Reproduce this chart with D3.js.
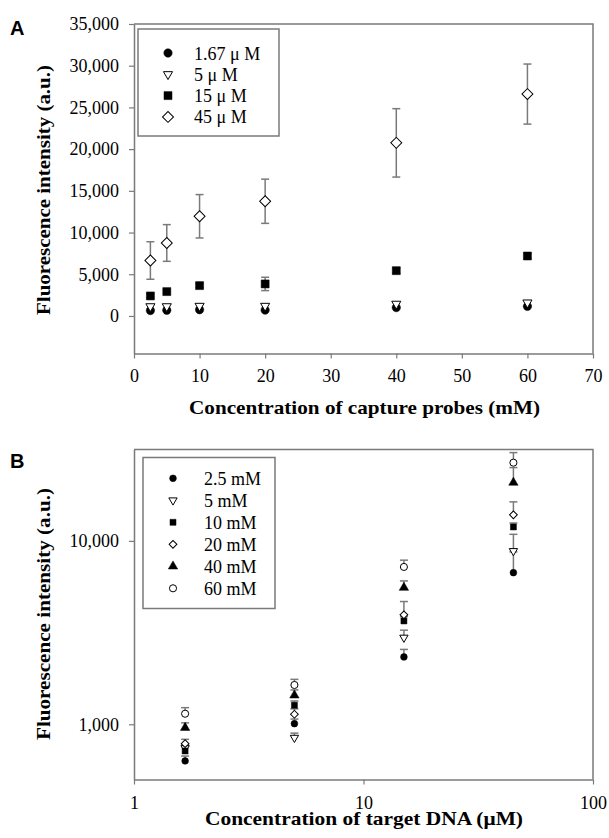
<!DOCTYPE html>
<html>
<head>
<meta charset="utf-8">
<script src="https://cdn.jsdelivr.net/npm/d3@7"></script>
<style>
  body { margin: 0; background: #fff; }
  svg text { font-family: "Liberation Serif", "Times New Roman", serif; }
</style>
</head>
<body>
<svg id="chart" width="609" height="838"></svg>
<script>
// panel A: capture probe concentration (mM) vs intensity, one series per target conc
const xA = [2.5, 5, 10, 20, 40, 60]
const a167 = [650, 680, 750, 700, 1000, 1150]
const a5 = [1150, 1150, 1200, 1200, 1450, 1600]
const a15 = [2400, 2920, 3640, 3840, 5430, 7190]
const a15err = [200, 200, 250, 800, 300, 300]
const a45 = [6650, 8750, 11950, 13750, 20750, 26600]
const a45err = [2250, 2200, 2600, 2650, 4100, 3600]
const yTicksA = [0, 5000, 10000, 15000, 20000, 25000, 30000, 35000]
const xTicksA = [0, 10, 20, 30, 40, 50, 60, 70]

// panel B: target DNA (uM) vs intensity, one series per probe conc (upper error only)
const xB = [1.67, 5, 15, 45]
const b25 = [631, 1008, 2330, 6710]
const b5 = [742, 845, 2970, 8810]
const b10 = [715, 1270, 3660, 11910]
const b20 = [784, 1134, 3950, 13870]
const b40 = [958, 1439, 5560, 20800]
const b60 = [1142, 1638, 7210, 26700]
const e25 = [40, 60, 230, 2000]
const e5 = [30, 50, 290, 2050]
const e10 = [40, 70, 200, 600]
const e20 = [44, 80, 720, 2450]
const e40 = [60, 100, 490, 4300]
const e60 = [90, 120, 640, 3600]
const yTicksB = [1000, 10000]
const xTicksB = [1, 10, 100]

const svg = d3.select("#chart")
const gray = "#7a7a7a"

// symbol helper
const shapes = {
    circle: {type: d3.symbolCircle, fill: "#000", rot: 0},
    tri: {type: d3.symbolTriangle, fill: "#fff", rot: 180},
    triUp: {type: d3.symbolTriangle, fill: "#000", rot: 0},
    square: {type: d3.symbolSquare, fill: "#000", rot: 0},
    diamond: {type: d3.symbolSquare, fill: "#fff", rot: 45},
    ring: {type: d3.symbolCircle, fill: "#fff", rot: 0}
}
const sizeA = {circle: 55, tri: 36, square: 64, diamond: 60}
const sizeB = {circle: 36, tri: 30, triUp: 38, square: 36, diamond: 30, ring: 40}

function marks(g, data, shape, size) {
    const s = shapes[shape]
    g.selectAll(null)
        .data(data)
        .enter().append("path")
        .attr("d", d3.symbol().type(s.type).size(size))
        .attr("transform", (d) => `translate(${d.x},${d.y}) rotate(${s.rot})`)
        .attr("fill", s.fill)
        .attr("stroke", "#000")
        .attr("stroke-width", s.fill == "#000" ? 0.5 : 1)
}

function errBars(g, data, cap, both) {
    const e = g.selectAll(null).data(data).enter().append("g")
        .attr("stroke", gray).attr("stroke-width", 1.5)
    e.append("line")
        .attr("x1", (d) => d.x).attr("x2", (d) => d.x)
        .attr("y1", (d) => both ? d.lo : d.y).attr("y2", (d) => d.hi)
    e.append("line")
        .attr("x1", (d) => d.x - cap).attr("x2", (d) => d.x + cap)
        .attr("y1", (d) => d.hi).attr("y2", (d) => d.hi)
    if (both) {
        e.append("line")
            .attr("x1", (d) => d.x - cap).attr("x2", (d) => d.x + cap)
            .attr("y1", (d) => d.lo).attr("y2", (d) => d.lo)
    }
}

function frame(g, x0, x1, y0, y1) {
    g.append("path")
        .attr("d", `M${x0},${y0}H${x1}V${y1}`)
        .attr("fill", "none").attr("stroke", gray).attr("stroke-width", 1.5)
}

function styleAxis(g) {
    g.select(".domain").attr("stroke", gray).attr("stroke-width", 1.5)
    g.selectAll(".tick line").attr("stroke", gray).attr("stroke-width", 1.2)
    g.selectAll(".tick text").attr("fill", "#000")
        .style("font-family", "'Liberation Serif', serif").style("font-size", "18px")
}

function legend(g, x, y, w, h, rows, first, gap, sizes, symX, textX) {
    g.append("rect").attr("x", x).attr("y", y).attr("width", w).attr("height", h)
        .attr("fill", "#fff").attr("stroke", gray).attr("stroke-width", 1.5)
    rows.forEach((r, i) => {
        const cy = y + first + gap * i
        marks(g, [{x: symX, y: cy}], r.shape, sizes[r.shape])
        g.append("text").attr("x", textX).attr("y", cy + 6.5)
            .style("font-size", "18px").text(r.label)
    })
}

function title(g, x, y, rot, len, txt) {
    g.append("text").attr("transform", `translate(${x},${y}) rotate(${rot})`)
        .attr("text-anchor", "middle")
        .attr("textLength", len).attr("lengthAdjust", "spacingAndGlyphs")
        .style("font-size", "19px").style("font-weight", "bold")
        .text(txt)
}

function panelLabel(g, x, y, txt) {
    g.append("text").attr("x", x).attr("y", y)
        .style("font-family", "'Liberation Sans', Arial, sans-serif")
        .style("font-size", "20px").style("font-weight", "bold").text(txt)
}

// ---------- Panel A ----------
const xScaleA = d3.scaleLinear().domain([0, 70]).range([134, 593])
const yScaleA = d3.scaleLinear().domain([-4500, 35000]).range([353.5, 24])
const gA = svg.append("g")

frame(gA, 134, 593, 24, 353.5)

gA.append("g").attr("transform", "translate(0,353.5)")
    .call(d3.axisBottom(xScaleA).tickValues(xTicksA).tickSize(5).tickSizeOuter(0).tickPadding(11))
    .call(styleAxis)
gA.append("g").attr("transform", "translate(134,0)")
    .call(d3.axisLeft(yScaleA).tickValues(yTicksA).tickFormat(d3.format(",")).tickSize(5).tickSizeOuter(0).tickPadding(10))
    .call(styleAxis)

const ptsA = (vals, errs) => xA.map((x, i) => ({
    x: xScaleA(x), y: yScaleA(vals[i]),
    hi: errs ? yScaleA(vals[i] + errs[i]) : 0, lo: errs ? yScaleA(vals[i] - errs[i]) : 0
}))

errBars(gA, ptsA(a45, a45err), 4, true)
errBars(gA, ptsA(a15, a15err), 4, true)
marks(gA, ptsA(a167), "circle", sizeA.circle)
marks(gA, ptsA(a5), "tri", sizeA.tri)
marks(gA, ptsA(a15), "square", sizeA.square)
marks(gA, ptsA(a45), "diamond", sizeA.diamond)

legend(gA, 138, 29, 141, 107, [
    {shape: "circle", label: "1.67 \u03bc M"},
    {shape: "tri", label: "5 \u03bc M"},
    {shape: "square", label: "15 \u03bc M"},
    {shape: "diamond", label: "45 \u03bc M"}
], 24, 21.3, sizeA, 168, 194)

title(gA, 364.5, 414, 0, 351, "Concentration of capture probes (mM)")
title(gA, 50, 190, -90, 250, "Fluorescence intensity (a.u.)")
panelLabel(gA, 10, 35, "A")

// ---------- Panel B ----------
const xScaleB = d3.scaleLog().domain([1, 100]).range([134, 593])
const yScaleB = d3.scaleLog().domain([500, 31500]).range([779.5, 449.5])
const gB = svg.append("g")

frame(gB, 134, 593, 449.5, 779.5)

gB.append("g").attr("transform", "translate(0,779.5)")
    .call(d3.axisBottom(xScaleB).tickValues(xTicksB).tickFormat(d3.format("d")).tickSize(5).tickSizeOuter(0).tickPadding(12))
    .call(styleAxis)
gB.append("g").attr("transform", "translate(134,0)")
    .call(d3.axisLeft(yScaleB).tickValues(yTicksB).tickFormat(d3.format(",")).tickSize(5).tickSizeOuter(0).tickPadding(10))
    .call(styleAxis)

const ptsB = (vals, errs) => xB.map((x, i) => ({
    x: xScaleB(x), y: yScaleB(vals[i]),
    hi: errs ? yScaleB(vals[i] + errs[i]) : 0, lo: 0
}))

const seriesB = [
    {vals: b25, errs: e25, shape: "circle", label: "2.5 mM"},
    {vals: b5, errs: e5, shape: "tri", label: "5 mM"},
    {vals: b10, errs: e10, shape: "square", label: "10 mM"},
    {vals: b20, errs: e20, shape: "diamond", label: "20 mM"},
    {vals: b40, errs: e40, shape: "triUp", label: "40 mM"},
    {vals: b60, errs: e60, shape: "ring", label: "60 mM"}
]
seriesB.forEach((s) => errBars(gB, ptsB(s.vals, s.errs), 4, false))
seriesB.forEach((s) => marks(gB, ptsB(s.vals), s.shape, sizeB[s.shape]))

legend(gB, 143, 457.5, 132, 151, seriesB.map((s) => ({shape: s.shape, label: s.label})),
    20.8, 22, sizeB, 173, 204)

title(gB, 364, 825, 0, 318, "Concentration of target DNA (\u03bcM)")
title(gB, 50, 614, -90, 252, "Fluorescence intensity (a.u.)")
panelLabel(gB, 10, 468, "B")
</script>
</body>
</html>
